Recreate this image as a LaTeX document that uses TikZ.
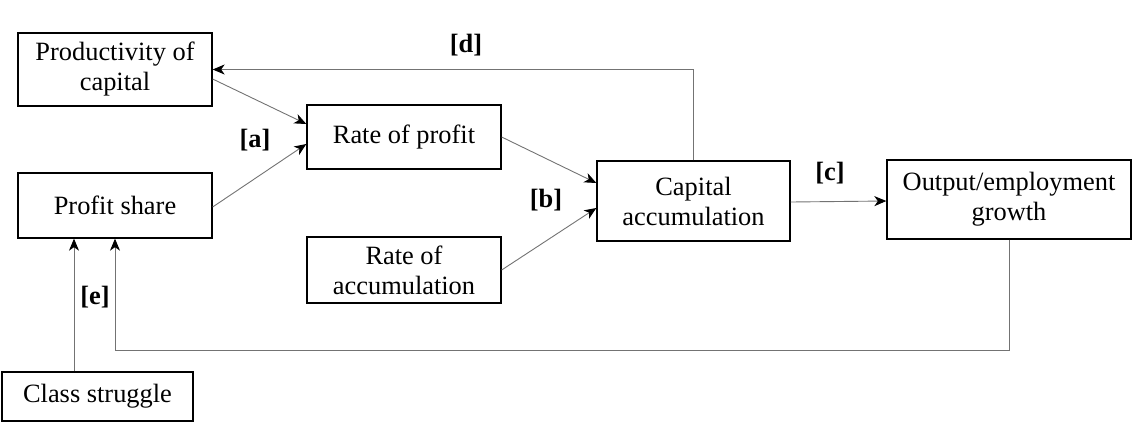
\documentclass[tikz,border=0pt]{standalone}
\usepackage{fontspec}
\setmainfont{Liberation Serif}
\usetikzlibrary{arrows.meta}
\begin{document}
\begin{tikzpicture}[x=1pt,y=-1pt,
  box/.style={draw=black,line width=1.3pt,inner sep=0pt,align=center,
    font=\fontsize{26.4}{30}\selectfont},
  conn/.style={draw=black!55,line width=0.9pt},
  arr/.style={conn,-{Stealth[length=12pt,width=10pt,inset=3.5pt,black]}},
  lab/.style={font=\fontsize{26.4}{30}\selectfont\bfseries,inner sep=0pt}]
\useasboundingbox (0,0) rectangle (1137,429);
\node[box,minimum width=194pt,minimum height=73pt] (prod) at (115,69.5) {Productivity of\\capital};
\node[box,minimum width=194pt,minimum height=65pt] (share) at (115,205.5) {Profit share};
\node[box,minimum width=194pt,minimum height=64pt] (rop) at (404,137) {Rate of profit};
\node[box,minimum width=194pt,minimum height=66pt] (roa) at (404,270) {Rate of\\accumulation};
\node[box,minimum width=193pt,minimum height=80pt] (cap) at (693.5,201) {Capital\\accumulation};
\node[box,minimum width=244pt,minimum height=79pt] (out) at (1009,199.5) {Output/employment\\growth};
\node[box,minimum width=191pt,minimum height=49pt] (cls) at (97.5,396.5) {Class struggle};
\coordinate (fb) at (0,350);

\draw[arr] ([yshift=-9.5pt]prod.east) -- ([yshift=13pt]rop.west);
\draw[arr] ([yshift=-1.5pt]share.east) -- ([yshift=-7pt]rop.west);
\draw[arr] (rop.east) -- ([yshift=18pt]cap.west);
\draw[arr] (roa.east) -- ([yshift=-7pt]cap.west);
\draw[arr] ([yshift=-1pt]cap.east) -- ([yshift=-1.5pt]out.west);
\draw[arr] (cap.north) |- (prod.east);
\draw[arr] (out.south) -- (out.south |- fb) -- (share.south |- fb) -- (share.south);
\draw[arr] ([xshift=-23.5pt]cls.north) -- ([xshift=-23.5pt]cls.north |- share.south);

\node[lab] (la) at (255,140) {[a]};
\node[lab] (lb) at (546,200) {[b]};
\node[lab] (lc) at (830,173) {[c]};
\node[lab] (ld) at (466,45) {[d]};
\node[lab] (le) at (95,297) {[e]};
\end{tikzpicture}
\end{document}
